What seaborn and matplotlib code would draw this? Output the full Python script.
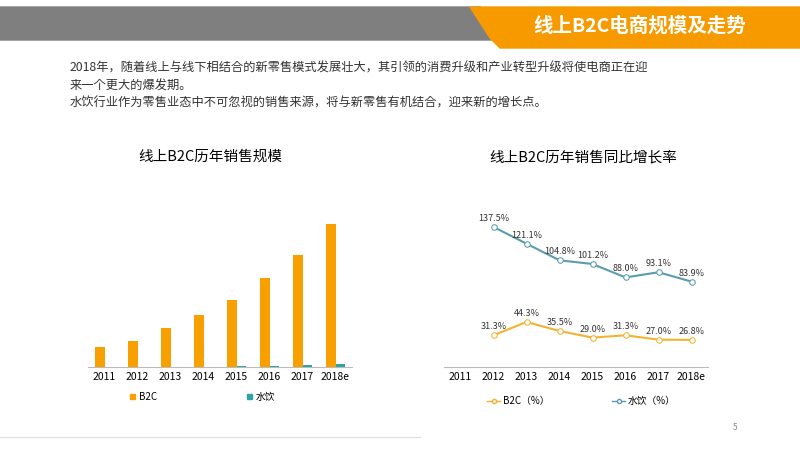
import numpy as np
import pandas as pd
import seaborn as sb
import matplotlib.pyplot as plt
from matplotlib.patches import Polygon

plt.rcParams['font.family'] = ['Noto Sans CJK SC', 'Noto Sans CJK JP', 'DejaVu Sans']

years = ['2011', '2012', '2013', '2014', '2015', '2016', '2017', '2018e']
b2c_scale = [20, 26, 38, 51, 66, 87, 110, 140]
water_scale = [0, 0, 0, 0.3, 0.7, 1.2, 2, 3.5]
growth_years = ['2012', '2013', '2014', '2015', '2016', '2017', '2018e']
b2c_growth = [31.3, 44.3, 35.5, 29.0, 31.3, 27.0, 26.8]
water_growth = [137.5, 121.1, 104.8, 101.2, 88.0, 93.1, 83.9]

ORANGE = '#F7A000'
TEAL = '#2EA3A6'
LINE_BLUE = '#5B9BB0'

fig = plt.figure(figsize=(8, 4.5), dpi=100)

# header band
bg = fig.add_axes([0, 0, 1, 1])
bg.set_xlim(0, 800); bg.set_ylim(450, 0); bg.axis('off')
bg.add_patch(Polygon([[0, 7], [480, 7], [495, 40], [0, 40]], color='#7F7F7F'))
bg.add_patch(Polygon([[470, 7], [800, 7], [800, 48], [500, 48], [490, 38]], color='#F79A00'))
bg.text(640, 26, '线上B2C电商规模及走势', color='white', fontsize=14, fontweight='bold',
        ha='center', va='center')
bg.text(70, 62, '2018年，随着线上与线下相结合的新零售模式发展壮大，其引领的消费升级和产业转型升级将使电商正在迎\n'
        '来一个更大的爆发期。\n水饮行业作为零售业态中不可忽视的销售来源，将与新零售有机结合，迎来新的增长点。',
        fontsize=8.8, va='top', linespacing=1.45, color='#333333')
bg.text(210, 157, '线上B2C历年销售规模', fontsize=10.5, ha='center', va='center')
bg.text(583, 157, '线上B2C历年销售同比增长率', fontsize=10.5, ha='center', va='center')
bg.plot([0, 420], [437, 437], color='#DDDDDD', lw=0.8)
bg.text(735, 430, '5', fontsize=6, color='#888888', ha='center')

# left bar chart
ax1 = fig.add_axes([0.11, 0.184, 0.33, 0.34])
df1 = pd.DataFrame({'year': years * 2,
                    'val': b2c_scale + water_scale,
                    'series': ['B2C'] * 8 + ['水饮'] * 8})
sb.barplot(data=df1, x='year', y='val', hue='series', palette=[ORANGE, TEAL],
           saturation=1, width=0.6, ax=ax1, legend=False)
ax1.set_ylim(0, 150)
ax1.set_xlabel(''); ax1.set_ylabel(''); ax1.set_yticks([])
for s in ['top', 'left', 'right']:
    ax1.spines[s].set_visible(False)
ax1.spines['bottom'].set_color('#BBBBBB')
ax1.tick_params(axis='x', labelsize=7.5, length=0)
bg.add_patch(plt.Rectangle((130, 394), 5, 5, color=ORANGE))
bg.text(139, 397, 'B2C', fontsize=7, va='center')
bg.add_patch(plt.Rectangle((247, 394), 5, 5, color=TEAL))
bg.text(256, 397, '水饮', fontsize=7, va='center')

# right line chart
ax2 = fig.add_axes([0.555, 0.184, 0.33, 0.34])
xpos = [years.index(y) for y in growth_years]
sb.lineplot(x=xpos, y=b2c_growth, color='#F2B430', marker='o', markersize=4,
            markerfacecolor='white', markeredgecolor='#F2B430', ax=ax2)
sb.lineplot(x=xpos, y=water_growth, color=LINE_BLUE, marker='o', markersize=4,
            markerfacecolor='white', markeredgecolor=LINE_BLUE, ax=ax2)
for x, v in zip(xpos, b2c_growth):
    ax2.text(x, v + 6, f'{v:.1f}%', fontsize=6.5, ha='center', color='#333333')
for x, v in zip(xpos, water_growth):
    ax2.text(x, v + 6, f'{v:.1f}%', fontsize=6.5, ha='center', color='#333333')
ax2.set_xlim(-0.5, 7.5)
ax2.set_ylim(0, 150)
ax2.set_xticks(range(len(years)))
ax2.set_xticklabels(years)
ax2.set_yticks([])
for s in ['top', 'left', 'right']:
    ax2.spines[s].set_visible(False)
ax2.spines['bottom'].set_color('#BBBBBB')
ax2.tick_params(axis='x', labelsize=7.5, length=0)
bg.plot([487, 500], [401, 401], color='#F2B430', lw=1)
bg.plot(493.5, 401, 'o', ms=3, mfc='white', mec='#F2B430')
bg.text(503, 401, 'B2C（%）', fontsize=7, va='center')
bg.plot([612, 625], [401, 401], color=LINE_BLUE, lw=1)
bg.plot(618.5, 401, 'o', ms=3, mfc='white', mec=LINE_BLUE)
bg.text(628, 401, '水饮（%）', fontsize=7, va='center')

fig.savefig('out.png', dpi=100)
